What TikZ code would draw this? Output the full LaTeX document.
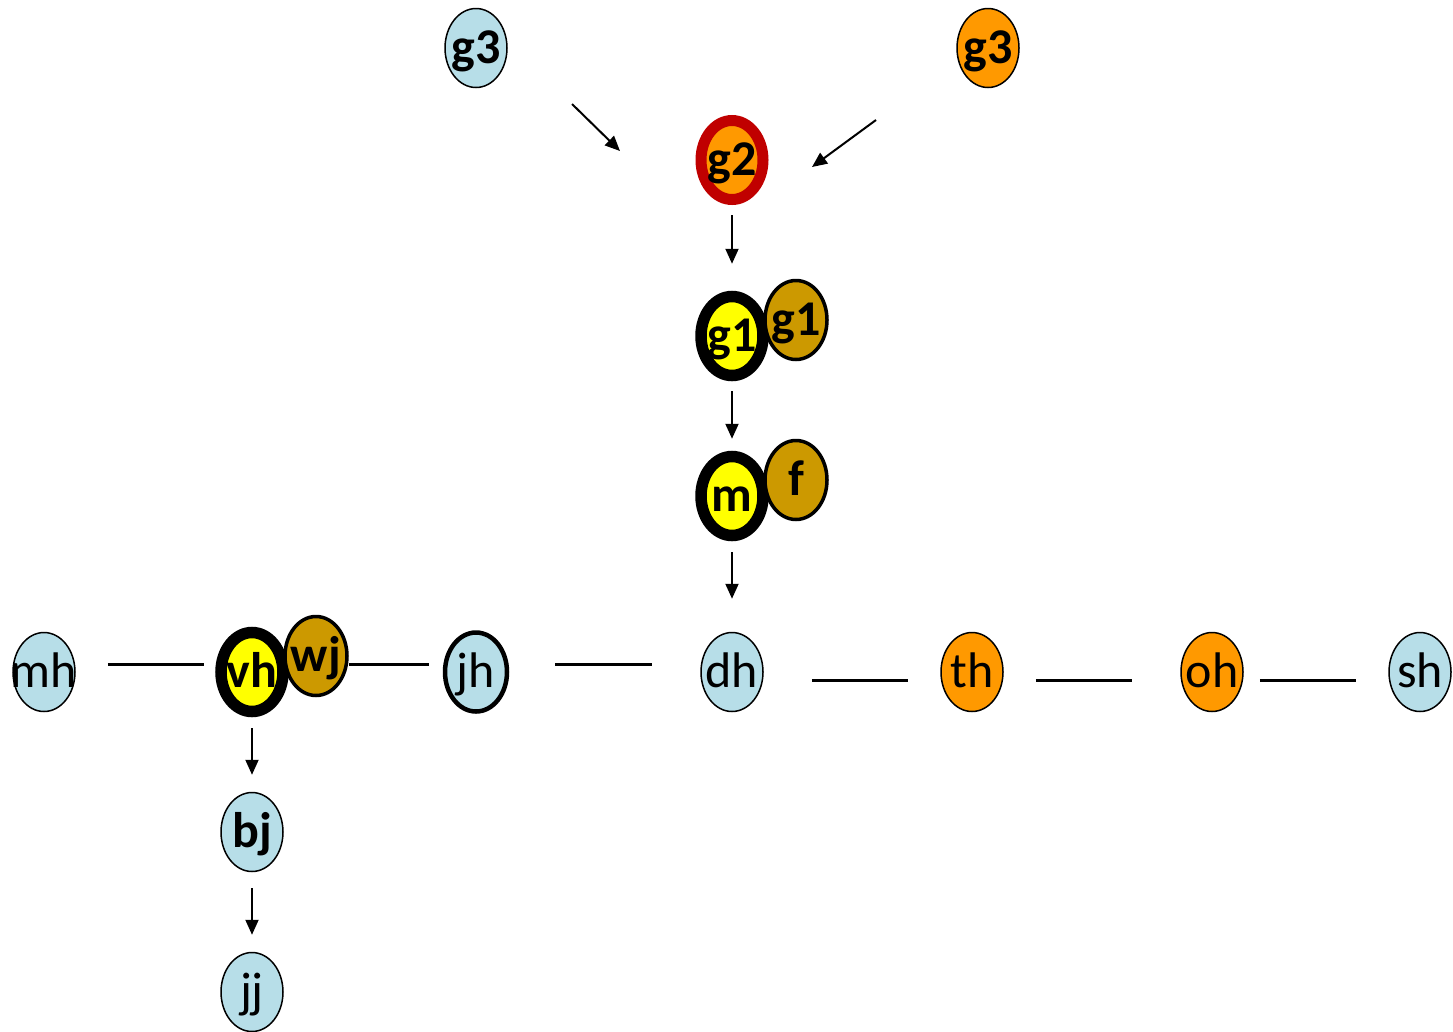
\documentclass[tikz,border=0pt]{standalone}
\usepackage{fontspec}
\setmainfont{Carlito}
\usetikzlibrary{shapes.geometric}
\usetikzlibrary{arrows.meta}

\definecolor{paleblue}{RGB}{183,222,232}
\definecolor{amber}{RGB}{255,153,0}
\definecolor{lemon}{RGB}{255,255,0}
\definecolor{ochre}{RGB}{204,153,0}
\definecolor{darkred}{RGB}{192,0,0}

\newcommand{\lbl}[1]{\makebox[0pt]{#1}}

\tikzset{
  person/.style={ellipse, draw=black, line width=1.5pt, inner sep=0pt,
    minimum width=62pt, minimum height=79pt, text height=38pt, text depth=8pt,
    font=\fontsize{50}{52}\selectfont},
  heavy/.style={font=\fontsize{50}{52}\selectfont\bfseries},
  sib/.style={person, fill=paleblue},
  kin/.style={person, fill=amber},
  self/.style={person, heavy, fill=lemon, line width=11.5pt},
  mate/.style={person, heavy, fill=ochre, line width=3.5pt},
  ring/.style={draw=darkred, line width=11pt},
  arr/.style={-{Triangle[length=15pt,width=13pt]}, line width=2pt},
  link/.style={line width=3pt}
}

\begin{document}
\begin{tikzpicture}[x=1pt, y=-1pt]
  \useasboundingbox (0,0) rectangle (1453,1031);

  % top generations
  \node[sib, heavy] (g3a) at (476,48) {\lbl{g3}};
  \node[kin, heavy] (g3b) at (988,48) {\lbl{g3}};
  \node[kin, heavy, ring] (g2) at (732,160) {\lbl{g2}};
  \node[self] (g1) at (732,336) {\lbl{g1}};
  \node[mate] (g1p) at (796,320) {\lbl{g1}};
  \node[self] (m) at (732,496) {\lbl{m}};
  \node[mate] (f) at (796,480) {\lbl{f}};

  % row of siblings
  \node[sib] (mh) at (44,672) {\lbl{mh}};
  \node[self] (vh) at (252,672) {\lbl{vh}};
  \node[mate] (wj) at (316,656) {\lbl{wj}};
  \node[sib, line width=4.5pt] (jh) at (476,672) {\lbl{jh}};
  \node[sib] (dh) at (732,672) {\lbl{dh}};
  \node[kin] (th) at (972,672) {\lbl{th}};
  \node[kin] (oh) at (1212,672) {\lbl{oh}};
  \node[sib] (sh) at (1420,672) {\lbl{sh}};

  % children
  \node[sib, heavy] (bj) at (252,832) {\lbl{bj}};
  \node[sib] (jj) at (252,992) {\lbl{jj}};

  % descent
  \draw[arr] ([shift={(96,56)}]g3a.center) -- ([shift={(-112,-9)}]g2.center);
  \draw[arr] ([shift={(-112,72)}]g3b.center) -- ([shift={(80,7)}]g2.center);
  \draw[arr, shorten <=10pt, shorten >=27pt] (g2.south) -- (g1.north);
  \draw[arr, shorten <=10pt, shorten >=12pt] (g1.south) -- (m.north);
  \draw[arr, shorten <=11pt, shorten >=33pt] (m.south) -- (dh.north);
  \draw[arr, shorten <=11pt, shorten >=17pt] (vh.south) -- (bj.north);
  \draw[arr, shorten <=16pt, shorten >=17pt] (bj.south) -- (jj.north);

  % sibling lines
  \draw[link, shorten <=32pt, shorten >=11pt] ([yshift=8pt]mh.east) -- ([yshift=8pt]vh.west);
  \draw[link, shorten >=14pt] (wj.east |- 0,664) -- ([yshift=8pt]jh.west);
  \draw[link, shorten <=46pt, shorten >=48pt] ([yshift=8pt]jh.east) -- ([yshift=8pt]dh.west);
  \draw[link, shorten <=48pt, shorten >=32pt] ([yshift=-8pt]dh.east) -- ([yshift=-8pt]th.west);
  \draw[link, shorten <=32pt, shorten >=48pt] ([yshift=-8pt]th.east) -- ([yshift=-8pt]oh.west);
  \draw[link, shorten <=16pt, shorten >=32pt] ([yshift=-8pt]oh.east) -- ([yshift=-8pt]sh.west);
\end{tikzpicture}
\end{document}
